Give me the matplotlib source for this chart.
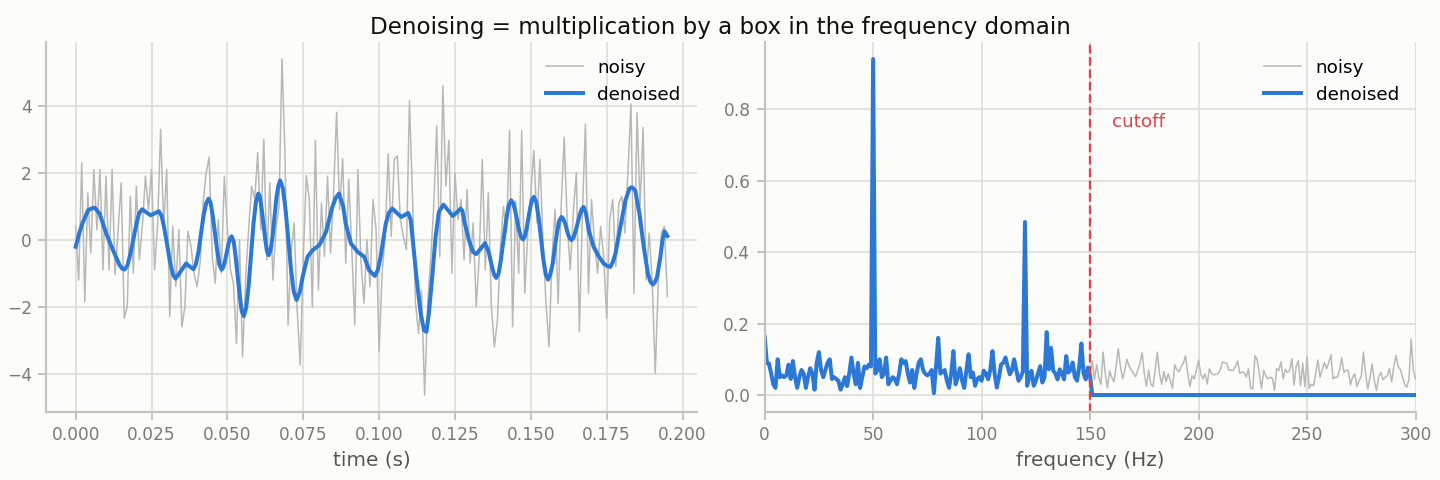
import numpy as np
import matplotlib
matplotlib.use('Agg')
import matplotlib.pyplot as plt

# time domain (1 kHz sampling, first 196 samples shown)
fs = 1000
noisy = [
    0.4, -1.2, 2.3, -1.85, 1.4, -0.4, 2.1, 0.3, 2.1, -0.9,
    1.9, -0.9, 2.1, -1.05, 0.3, 1.7, -2.35, -2.0, 1.3, -1.0,
    1.6, -0.6, 0.45, 1.9, 0.9, 2.1, -0.9, 0.45, 3.3, 0.4,
    2.1, -2.3, 0.4, -1.4, 0.3, -2.6, -2.0, 0.25, -0.2, -1.0,
    -1.4, -0.7, 1.1, 2.0, 2.47, -0.5, -1.3, 0.6, -1.0, 1.9,
    0.3, -0.9, -1.3, -3.1, 0.0, -3.5, -1.2, 0.3, 1.6, 1.2,
    2.6, 0.3, 3.0, -0.6, 1.7, -1.2, 0.3, 1.0, 5.4, 2.47,
    -2.55, -0.4, 0.5, -2.1, -3.74, -0.6, 1.92, 1.2, -2.0, 2.97,
    -1.5, 1.1, -0.5, 1.9, -0.4, 1.4, 3.81, 0.9, 2.42, -0.7,
    1.8, -0.3, -2.55, 2.1, -0.6, -1.9, 0.0, -1.4, 1.2, 0.3,
    -3.35, -1.0, 0.1, 2.57, 0.1, 2.4, 2.5, 0.6, 0.1, -0.3,
    4.16, 1.3, -1.9, -2.8, -1.5, -4.64, -1.9, -0.6, 1.0, 3.4,
    -0.5, 4.6, 1.6, 2.97, -1.0, 2.0, 0.6, 1.2, -0.6, 1.5,
    -0.7, 0.5, -2.0, -0.5, 2.4, -0.9, 1.4, -2.0, -3.2, -2.4,
    -0.2, 1.0, 0.2, 3.26, -2.6, 1.15, -1.0, 3.26, -1.6, 0.2,
    1.4, 2.67, 0.5, 2.4, 0.0, -1.9, -3.2, -0.5, 0.9, -1.9,
    1.0, 3.07, 0.5, -0.9, 0.8, 2.0, -2.75, 0.8, 3.46, -1.6,
    1.2, -0.1, -1.0, 0.4, -0.5, -2.35, 0.6, 1.2, -0.8, 1.1,
    1.3, 0.2, 2.0, 4.06, -1.6, 3.8, 1.0, 3.35, -1.2, 0.2,
    -1.2, -4.0, -1.3, 0.2, 0.4, -1.7,
]

# denoised curve (time in ms)
den_ms = [
    0, 1.2, 2.4, 4.1, 5.2, 6.25, 7.9, 10.1, 12.3, 14.5, 15.3, 16.1, 17.05, 18.0, 19.0, 20.0,
    20.9, 21.9, 23.3, 24.7, 26.05, 27.4, 28.3, 29.2, 30.15, 31.1, 32.0, 32.9, 34.65, 36.4,
    37.6, 38.8, 39.6, 40.5, 41.3, 42.1, 43.0, 43.8, 44.5, 45.2, 45.95, 46.7, 47.4, 48.1,
    48.65, 49.2, 50.3, 50.85, 51.4, 52.1, 52.7, 53.4, 54.1, 54.7, 55.4, 56.2, 57.0, 57.8,
    58.6, 59.4, 60.2, 60.77, 61.3, 62.5, 63.03, 63.6, 64.23, 64.9, 65.5, 66.1, 66.77, 67.4,
    68.3, 69.2, 70.1, 71.0, 71.9, 72.8, 73.9, 74.8, 76.4, 78.1, 80.3, 82.5, 84.6, 85.7,
    86.8, 88.2, 89.0, 90.7, 92.9, 95.1, 96.7, 98.6, 99.6, 100.5, 102.2, 103.3, 104.4,
    105.85, 107.3, 108.45, 109.6, 110.4, 111.0, 112.3, 113.7, 114.8, 115.6, 116.4, 117.5,
    118.6, 119.7, 121.2, 122.75, 124.3, 125.6, 126.9, 127.5, 128.0, 129.6, 130.9, 132.0,
    133.45, 134.9, 136.1, 136.75, 137.4, 138.0, 138.6, 139.4, 140.2, 141.05, 141.9, 142.7,
    143.5, 144.15, 144.8, 146.1, 146.75, 147.4, 148.0, 148.6, 149.8, 150.4, 151.0, 151.8,
    152.6, 153.35, 154.1, 154.9, 155.7, 156.45, 157.2, 157.9, 158.6, 159.35, 160.1, 160.65,
    161.2, 162.3, 162.85, 163.4, 164.05, 164.7, 166.1, 166.75, 167.4, 168.2, 169.1, 170.7,
    172.4, 174.0, 175.1, 176.2, 177.0, 177.9, 179.5, 181.2, 182.5, 183.3, 184.4, 185.8,
    187.2, 188.6, 189.4, 190.2, 190.9, 191.6, 192.7, 193.4, 194.1, 195.0,
]
den_val = [
    -0.21, 0.20, 0.53, 0.88, 0.93, 0.96, 0.78, 0.18, -0.31, -0.76, -0.86, -0.89, -0.77, -0.44, 0.01, 0.46,
    0.79, 0.91, 0.82, 0.73, 0.79, 0.85, 0.72, 0.35, -0.16, -0.66, -1.03, -1.16, -0.94, -0.71,
    -0.80, -0.88, -0.74, -0.35, 0.18, 0.70, 1.09, 1.23, 1.09, 0.70, 0.17, -0.36, -0.75, -0.89,
    -0.82, -0.64, -0.15, 0.03, 0.10, -0.06, -0.50, -1.09, -1.69, -2.12, -2.28, -2.03, -1.37, -0.45,
    0.47, 1.13, 1.38, 1.26, 0.92, 0.00, -0.34, -0.46, -0.31, 0.10, 0.66, 1.21, 1.61, 1.77,
    1.53, 0.88, -0.02, -0.91, -1.56, -1.80, -1.55, -1.11, -0.51, -0.31, -0.16, 0.23, 0.98, 1.25,
    1.38, 0.98, 0.48, -0.11, -0.36, -0.51, -0.91, -1.08, -0.90, -0.51, 0.48, 0.82, 0.93,
    0.80, 0.68, 0.74, 0.80, 0.60, 0.08, -1.11, -2.20, -2.70, -2.75, -2.20, -1.11,
    0.08, 0.83, 1.05, 0.88, 0.71, 0.82, 0.93, 0.85, 0.58, -0.01, -0.36, -0.43,
    -0.27, -0.10, -0.36, -0.62, -0.88, -1.06, -1.14, -1.00, -0.56, 0.02, 0.60, 1.02,
    1.18, 1.10, 0.89, 0.30, 0.09, 0.01, 0.09, 0.33, 0.96, 1.20, 1.28, 1.12,
    0.66, 0.05, -0.57, -1.03, -1.19, -1.02, -0.72, -0.26, 0.21, 0.56, 0.68, 0.63,
    0.51, 0.16, 0.04, -0.01, 0.06, 0.24, 0.73, 0.91, 0.98, 0.78, 0.28, -0.21,
    -0.50, -0.71, -0.78, -0.81, -0.67, -0.41, 0.38, 1.18, 1.53, 1.57, 1.48, 0.78,
    -0.21, -1.01, -1.25, -1.34, -1.27, -1.11, -0.51, -0.01, 0.25, 0.11,
]

# amplitude spectrum, 1 Hz bins from 0 to 300 Hz
spectrum = [
    0.163, 0.09, 0.088, 0.06, 0.03, 0.02, 0.10, 0.05, 0.055, 0.05,
    0.055, 0.085, 0.045, 0.095, 0.05, 0.02, 0.05, 0.07, 0.06, 0.02,
    0.05, 0.075, 0.06, 0.015, 0.09, 0.12, 0.07, 0.05, 0.07, 0.09,
    0.10, 0.045, 0.05, 0.045, 0.04, 0.015, 0.03, 0.05, 0.025, 0.06,
    0.105, 0.06, 0.03, 0.09, 0.02, 0.05, 0.08, 0.075, 0.085, 0.08,
    0.94, 0.06, 0.07, 0.10, 0.05, 0.06, 0.105, 0.03, 0.04, 0.05,
    0.045, 0.03, 0.06, 0.10, 0.09, 0.095, 0.06, 0.035, 0.07, 0.02,
    0.06, 0.09, 0.10, 0.07, 0.06, 0.055, 0.06, 0.07, 0.005, 0.08,
    0.16, 0.06, 0.065, 0.07, 0.04, 0.02, 0.06, 0.123, 0.03, 0.05,
    0.075, 0.04, 0.02, 0.07, 0.114, 0.05, 0.063, 0.026, 0.045, 0.05,
    0.04, 0.068, 0.06, 0.044, 0.07, 0.123, 0.06, 0.021, 0.05, 0.086,
    0.09, 0.105, 0.08, 0.058, 0.07, 0.10, 0.07, 0.04, 0.05, 0.065,
    0.484, 0.026, 0.05, 0.068, 0.026, 0.04, 0.06, 0.081, 0.035, 0.05,
    0.176, 0.072, 0.132, 0.068, 0.06, 0.044, 0.072, 0.06, 0.044, 0.109,
    0.063, 0.07, 0.091, 0.05, 0.04, 0.08, 0.144, 0.06, 0.044, 0.077,
    0.054,
    0.095, 0.043, 0.085, 0.05, 0.03, 0.12, 0.06, 0.02, 0.067, 0.05,
    0.037, 0.08, 0.13, 0.08, 0.045, 0.07, 0.10, 0.08, 0.07, 0.06,
    0.052, 0.07, 0.09, 0.118, 0.06, 0.024, 0.07, 0.03, 0.024, 0.07,
    0.12, 0.06, 0.03, 0.066, 0.037, 0.06, 0.04, 0.019, 0.085, 0.07,
    0.065, 0.08, 0.09, 0.11, 0.06, 0.024, 0.054, 0.045, 0.07, 0.098,
    0.06, 0.045, 0.06, 0.031, 0.074, 0.06, 0.056, 0.058, 0.06, 0.07,
    0.093, 0.09, 0.089, 0.069, 0.07, 0.069, 0.08, 0.096, 0.06, 0.065,
    0.063, 0.05, 0.074, 0.019, 0.017, 0.11, 0.10, 0.06, 0.017, 0.069,
    0.054, 0.045, 0.05, 0.047, 0.013, 0.074, 0.069, 0.093, 0.045, 0.072,
    0.063, 0.07, 0.102, 0.028, 0.08, 0.096, 0.026, 0.089, 0.024, 0.107,
    0.019, 0.03, 0.026, 0.06, 0.098, 0.05, 0.07, 0.091, 0.074, 0.09,
    0.113, 0.045, 0.05, 0.05, 0.07, 0.104, 0.063, 0.07, 0.069, 0.028,
    0.05, 0.06, 0.024, 0.04, 0.052, 0.12, 0.06, 0.017, 0.05, 0.087,
    0.04, 0.013, 0.05, 0.063, 0.043, 0.05, 0.054, 0.074, 0.037, 0.08,
    0.111, 0.08, 0.072, 0.05, 0.03, 0.022, 0.045, 0.157, 0.07, 0.045,
]
cutoff = 150

BG = '#fcfcfa'
GRAY = '#b8b8b6'
BLUE = '#2c78d6'
RED = '#e0444a'

plt.rcParams['font.family'] = 'DejaVu Sans'
plt.rcParams['axes.edgecolor'] = '#c4c4bc'
plt.rcParams['xtick.color'] = '#c4c4bc'
plt.rcParams['ytick.color'] = '#c4c4bc'
plt.rcParams['xtick.labelcolor'] = '#7a7a7a'
plt.rcParams['ytick.labelcolor'] = '#7a7a7a'
plt.rcParams['xtick.labelsize'] = 10.2
plt.rcParams['ytick.labelsize'] = 10.2

t = np.arange(len(noisy)) / fs
freqs = np.arange(len(spectrum))
spec = np.array(spectrum)
spec_box = np.where(freqs <= cutoff, spec, 0.0)

fig, (ax1, ax2) = plt.subplots(1, 2, figsize=(12, 4), dpi=120, facecolor=BG)
fig.subplots_adjust(left=0.032, right=0.983, bottom=0.142, top=0.912, wspace=0.104)

ax1.plot(t, noisy, color=GRAY, lw=0.9, label='noisy')
ax1.plot(np.array(den_ms) / 1000, den_val, color=BLUE, lw=2.4, label='denoised')
ax1.set_xlabel('time (s)', fontsize=12, color='#555555')
ax1.set_xticks(np.arange(0, 0.201, 0.025))
ax1.set_yticks([-4, -2, 0, 2, 4])

ax2.plot(freqs, spec, color=GRAY, lw=0.9, label='noisy')
ax2.plot(freqs, spec_box, color=BLUE, lw=2.4, label='denoised')
ax2.axvline(cutoff, color=RED, ls='--', lw=1.4)
ax2.text(cutoff + 10, 0.75, 'cutoff', color=RED, fontsize=11)
ax2.set_xlim(0, 300)
ax2.set_xlabel('frequency (Hz)', fontsize=12, color='#555555')
ax2.set_yticks([0.0, 0.2, 0.4, 0.6, 0.8])

for ax in (ax1, ax2):
    ax.set_facecolor(BG)
    ax.grid(True, color='#deded8', lw=1)
    ax.set_axisbelow(True)
    ax.spines['top'].set_visible(False)
    ax.spines['right'].set_visible(False)
    ax.spines['left'].set_linewidth(1.3)
    ax.spines['bottom'].set_linewidth(1.3)
    ax.tick_params(length=5, width=1.2)
    leg = ax.legend(loc='upper right', frameon=False, fontsize=11)

fig.suptitle('Denoising = multiplication by a box in the frequency domain',
             fontsize=13.8, color='#111111', y=0.967)

fig.savefig('out.png', dpi=120, facecolor=BG)
